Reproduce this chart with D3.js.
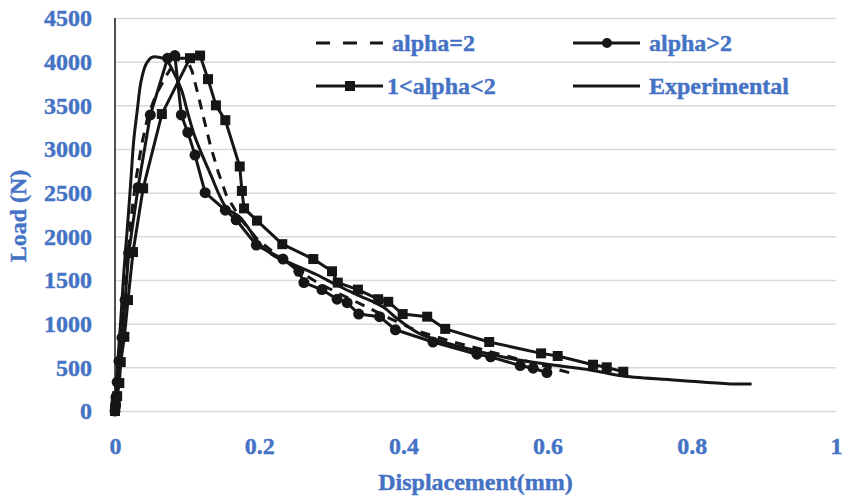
<!DOCTYPE html>
<html>
<head>
<meta charset="utf-8">
<script src="https://cdn.jsdelivr.net/npm/d3@7"></script>
<style>
	body { margin: 0; background: #fff; }
	text { font-family: "Liberation Serif", "Times New Roman", serif; font-weight: bold; }
</style>
</head>
<body>
<script>
//////////////////////////////////////////////
// Data //////////////////////////////////////
//////////////////////////////////////////////
var xTicks = [0, 0.2, 0.4, 0.6, 0.8, 1];
var yTicks = [0, 500, 1000, 1500, 2000, 2500, 3000, 3500, 4000, 4500];

var legendLabels = ["alpha=2", "alpha>2", "1<alpha<2", "Experimental"];

// alpha=2 (dashed)
var alpha2Disp = [0, 0.003, 0.007, 0.011, 0.017, 0.022, 0.029, 0.037, 0.046, 0.057, 0.069, 0.080, 0.090, 0.099,
	0.107, 0.115, 0.124, 0.132, 0.143, 0.154, 0.173, 0.198, 0.229, 0.257, 0.281, 0.312, 0.347, 0.381, 0.418, 0.465, 0.520, 0.576, 0.634];
var alpha2Load = [0, 300, 700, 1160, 1710, 2190, 2650, 3050, 3390, 3620, 3810, 3960, 4040, 4040,
	3890, 3630, 3320, 3050, 2740, 2480, 2210, 1960, 1760, 1590, 1470, 1340, 1200, 1060, 920, 800, 680, 560, 430];

// alpha>2 (circles)
var alphaGt2Disp = [0, 0.0007, 0.0014, 0.003, 0.0055, 0.0097, 0.014, 0.019, 0.032, 0.049, 0.073, 0.083, 0.092, 0.101, 0.111, 0.125,
	0.153, 0.168, 0.196, 0.233, 0.255, 0.262, 0.287, 0.308, 0.322, 0.338, 0.367, 0.389, 0.441, 0.502, 0.521, 0.562, 0.580, 0.599];
var alphaGt2Load = [0, 70, 160, 330, 570, 840, 1270, 1810, 2560, 3390, 4040, 4070, 3390, 3190, 2930, 2500,
	2300, 2190, 1900, 1740, 1600, 1470, 1390, 1280, 1240, 1110, 1080, 930, 790, 650, 620, 520, 490, 440];

// 1<alpha<2 (squares)
var alphaMidDisp = [0, 0.001, 0.003, 0.006, 0.008, 0.013, 0.018, 0.025, 0.039, 0.065, 0.104, 0.118, 0.129, 0.140, 0.153, 0.173, 0.176, 0.179,
	0.197, 0.232, 0.275, 0.301, 0.309, 0.337, 0.365, 0.379, 0.399, 0.433, 0.458, 0.519, 0.591, 0.614, 0.663, 0.682, 0.705];
var alphaMidLoad = [0, 80, 170, 320, 560, 850, 1270, 1820, 2550, 3400, 4040, 4070, 3800, 3500, 3330, 2800, 2520, 2320,
	2180, 1910, 1740, 1600, 1470, 1390, 1280, 1250, 1110, 1080, 940, 790, 660, 630, 530, 500, 450];

// Experimental (solid)
var expDisp = [0, 0.0014, 0.004, 0.008, 0.0125, 0.018, 0.022, 0.026, 0.031, 0.036, 0.043, 0.051, 0.061, 0.071, 0.080, 0.092, 0.101, 0.110,
	0.121, 0.133, 0.146, 0.155, 0.173, 0.187, 0.197, 0.222, 0.247, 0.280, 0.308, 0.336, 0.372, 0.391, 0.419, 0.447, 0.506, 0.562, 0.613,
	0.659, 0.705, 0.784, 0.853, 0.883];
var expLoad = [0, 240, 580, 1040, 1610, 2190, 2640, 3100, 3450, 3770, 3970, 4050, 4050, 4020, 3900, 3680, 3410, 3160,
	2930, 2700, 2450, 2320, 2220, 2070, 1940, 1770, 1680, 1560, 1440, 1330, 1190, 1060, 900, 810, 680, 580, 520,
	470, 400, 350, 310, 310];

function zip(xs, ys) {
	return xs.map(function(x, i) { return {x: x, y: ys[i]}; });
}

var series = [
	{name: legendLabels[0], data: zip(alpha2Disp, alpha2Load), dash: "10,8", marker: null},
	{name: legendLabels[1], data: zip(alphaGt2Disp, alphaGt2Load), dash: null, marker: "circle"},
	{name: legendLabels[2], data: zip(alphaMidDisp, alphaMidLoad), dash: null, marker: "square"},
	{name: legendLabels[3], data: zip(expDisp, expLoad), dash: null, marker: null, smooth: true}
];

//////////////////////////////////////////////
// Chart Config /////////////////////////////
//////////////////////////////////////////////
var margin = {top: 18, right: 10, bottom: 88, left: 115},
	width = 846 - margin.left - margin.right,
	height = 499 - margin.top - margin.bottom;

var textColor = "#4472c4";
var inkColor = "#161616";

var xScale = d3.scaleLinear().domain([0, 1]).range([0, width]);
var yScale = d3.scaleLinear().domain([0, 4500]).range([height, 0]);

var svg = d3.select("body")
			.append("svg")
			.attr("width", 846)
			.attr("height", 499);

var artboard = svg.append("g")
				  .attr("transform", "translate(" + margin.left + "," + margin.top + ")");

// gridlines
var grid = artboard.append("g")
	.call(d3.axisLeft(yScale).tickValues(yTicks).tickSize(-width).tickFormat(""));
grid.select(".domain").remove();
grid.selectAll("line").attr("stroke", "#d9d9d9").attr("stroke-width", 1.5);

// y axis labels
var yAxisEl = artboard.append("g")
	.call(d3.axisLeft(yScale).tickValues(yTicks).tickSize(0).tickPadding(23).tickFormat(d3.format("d")));
yAxisEl.select(".domain").remove();
yAxisEl.selectAll("text")
	.attr("fill", textColor)
	.attr("stroke", textColor)
	.attr("stroke-width", 0.4)
	.style("font-size", "24px");

// vertical axis line
artboard.append("line")
	.attr("x1", 0).attr("x2", 0)
	.attr("y1", 0).attr("y2", height)
	.attr("stroke", inkColor)
	.attr("stroke-width", 1.5);

// x axis labels
var xAxisEl = artboard.append("g")
	.attr("transform", "translate(0," + height + ")")
	.call(d3.axisBottom(xScale).tickValues(xTicks).tickSize(0).tickPadding(26).tickFormat(d3.format("~g")));
xAxisEl.select(".domain").remove();
xAxisEl.selectAll("text")
	.attr("fill", textColor)
	.attr("stroke", textColor)
	.attr("stroke-width", 0.4)
	.style("font-size", "24px");

// axis titles
svg.append("text")
	.attr("x", margin.left + width / 2)
	.attr("y", 490)
	.attr("text-anchor", "middle")
	.attr("fill", textColor)
	.attr("stroke", textColor)
	.attr("stroke-width", 0.4)
	.style("font-size", "24px")
	.text("Displacement(mm)");

svg.append("text")
	.attr("transform", "translate(26,216) rotate(-90)")
	.attr("text-anchor", "middle")
	.attr("fill", textColor)
	.attr("stroke", textColor)
	.attr("stroke-width", 0.4)
	.style("font-size", "24px")
	.text("Load (N)");

//////////////////////////////////////////////
// Drawing ///////////////////////////////////
//////////////////////////////////////////////
var line = d3.line()
	.x(function(d) { return xScale(d.x); })
	.y(function(d) { return yScale(d.y); });

var smoothLine = d3.line()
	.curve(d3.curveCatmullRom)
	.x(function(d) { return xScale(d.x); })
	.y(function(d) { return yScale(d.y); });

series.forEach(function(s) {
	artboard.append("path")
		.datum(s.data)
		.attr("fill", "none")
		.attr("stroke", inkColor)
		.attr("stroke-width", 3)
		.attr("stroke-linejoin", "round")
		.attr("stroke-dasharray", s.dash)
		.attr("d", s.smooth ? smoothLine : line);

	if (s.marker === "circle") {
		artboard.selectAll(null).data(s.data).enter()
			.append("circle")
			.attr("cx", function(d) { return xScale(d.x); })
			.attr("cy", function(d) { return yScale(d.y); })
			.attr("r", 5.5)
			.attr("fill", inkColor);
	} else if (s.marker === "square") {
		artboard.selectAll(null).data(s.data).enter()
			.append("rect")
			.attr("x", function(d) { return xScale(d.x) - 5; })
			.attr("y", function(d) { return yScale(d.y) - 5; })
			.attr("width", 10)
			.attr("height", 10)
			.attr("fill", inkColor);
	}
});

//////////////////////////////////////////////
// Legend ////////////////////////////////////
//////////////////////////////////////////////
var legendPos = [[316, 43], [573, 43], [316, 86], [573, 86]];
var legend = svg.append("g");

series.forEach(function(s, i) {
	var p = legendPos[i];
	var g = legend.append("g").attr("transform", "translate(" + p[0] + "," + p[1] + ")");
	g.append("line")
		.attr("x1", 0).attr("x2", 67)
		.attr("stroke", inkColor)
		.attr("stroke-width", 3)
		.attr("stroke-dasharray", s.dash ? "14,13" : null);
	if (s.marker === "circle") {
		g.append("circle").attr("cx", 34).attr("r", 5).attr("fill", inkColor);
	} else if (s.marker === "square") {
		g.append("rect").attr("x", 29).attr("y", -5).attr("width", 10).attr("height", 10).attr("fill", inkColor);
	}
	g.append("text")
		.attr("x", s.marker === "square" ? 71 : 76)
		.attr("dy", "0.32em")
		.attr("fill", textColor)
		.attr("stroke", textColor)
		.attr("stroke-width", 0.4)
		.style("font-size", "24px")
		.text(s.name);
});
</script>
</body>
</html>
